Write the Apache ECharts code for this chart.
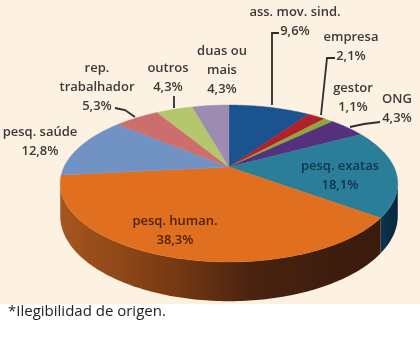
<!DOCTYPE html>
<html>
<head>
<meta charset="utf-8">
<style>html,body{margin:0;padding:0;background:#fff}#c{width:420px;height:337px}</style>
<script src="https://cdn.jsdelivr.net/npm/echarts@6/dist/echarts.min.js"></script>
</head>
<body>
<div id="c"></div>
<script>
const categories = ['ass. mov. sind.','empresa','gestor','ONG','pesq. exatas','pesq. human.','pesq. saúde','rep.\ntrabalhador','outros','duas ou\nmais'];
const values = [9.6,2.1,1.1,4.3,18.1,38.3,12.8,5.3,4.3,4.3];
const faceColors = ['#1b5391','#b2202b','#8da83b','#54307f','#2a7e99','#e0701f','#7093c4','#cc6e6c','#b4c76d','#9d8cb1'];
const labelCenters = [[295,22],[351,47],[353,98],[397,109],[340,176],[175,231],[40,142],[97,87],[168,78],[222,70]];
const footnote = '*Ilegibilidad de origen.';
const leaders = [
  [[272,105],[272,33],[279,33]],
  [[321,115],[327,58],[335,58]],
  [[350,127],[364,124],[380,122]],
  [[174,108],[174,96]],
  [[135,117],[125,110],[115,108]]
];

const apex = [229,167], Rx = 165, Ry = 75, persp = -0.21, depth = 31;
const total = values.reduce((a,b)=>a+b,0);
function project(theta, extrude){
  const u = Math.sin(theta), v = -Math.cos(theta), d = 1 + persp*v;
  return [apex[0] + Rx*u/d, apex[1] + Ry*v/d + (extrude ? depth/d : 0)];
}
function grad(stops){
  return new echarts.graphic.LinearGradient(60,0,398,0,stops.map(s=>({offset:(s[0]-60)/338,color:s[1]})),true);
}
const wallFills = {
  4: grad([[372,'#0f3f58'],[398,'#06263a']]),
  5: grad([[60,'#a4561f'],[120,'#8f4817'],[190,'#6e3512'],[250,'#4a2310'],[330,'#3e1d0e'],[385,'#3a1b0c']]),
  6: grad([[60,'#a4561f'],[70,'#a4561f']])
};
const wallStart = Math.acos(-0.21), wallEnd = 2*Math.PI - wallStart;

function renderItem(params, api){
  const i = params.dataIndex;
  let before = 0;
  for(let k=0;k<i;k++) before += values[k];
  const a0 = before/total*2*Math.PI, a1 = (before+api.value(0))/total*2*Math.PI;
  const step = Math.PI/180;
  const children = [];
  const w0 = Math.max(a0,wallStart), w1 = Math.min(a1,wallEnd);
  if(w1 > w0){
    const top=[], bottom=[];
    for(let t=w0;t<w1;t+=step){top.push(project(t,false));bottom.unshift(project(t,true));}
    top.push(project(w1,false));bottom.unshift(project(w1,true));
    children.push({type:'polygon',shape:{points:top.concat(bottom)},style:{fill:wallFills[i]||faceColors[i]}});
  }
  const pts=[[apex[0],apex[1]]];
  for(let t=a0;t<a1;t+=step) pts.push(project(t,false));
  pts.push(project(a1,false));
  children.push({type:'polygon',z2:5,shape:{points:pts},style:{fill:faceColors[i],stroke:faceColors[i],lineWidth:0.4}});
  return {type:'group',children};
}

const textFont = {fontFamily:'"Open Sans"',fontSize:13,fontWeight:600,lineHeight:19,align:'center',verticalAlign:'middle',fill:'#3d3a38'};
const labelFills = {4:'#12344d',5:'#4e2208'};
const graphics = [
  {type:'rect',z:-1,silent:true,shape:{x:0,y:0,width:420,height:304},style:{fill:'#fdf1e1'}},
  {type:'text',z:10,left:8,top:304,style:{text:footnote,fontFamily:'"Open Sans"',fontSize:15,fill:'#222222'}}
];
leaders.forEach(p=>graphics.push({type:'polyline',z:9,silent:true,shape:{points:p},style:{fill:null,stroke:'#2e2e2e',lineWidth:1.8}}));
categories.forEach((c,i)=>{
  graphics.push({type:'text',z:10,silent:true,x:labelCenters[i][0],y:labelCenters[i][1],
    style:Object.assign({},textFont,{text:c+'\n'+String(values[i]).replace('.',',')+'%',fill:labelFills[i]||textFont.fill})});
});

const chart = echarts.init(document.getElementById('c'),null,{renderer:'canvas'});
chart.setOption({
  animation:false,
  backgroundColor:'#ffffff',
  graphic:graphics,
  series:[{type:'custom',coordinateSystem:'none',silent:true,data:values.map(v=>[v]),encode:{value:0},renderItem}]
});
</script>
</body>
</html>
